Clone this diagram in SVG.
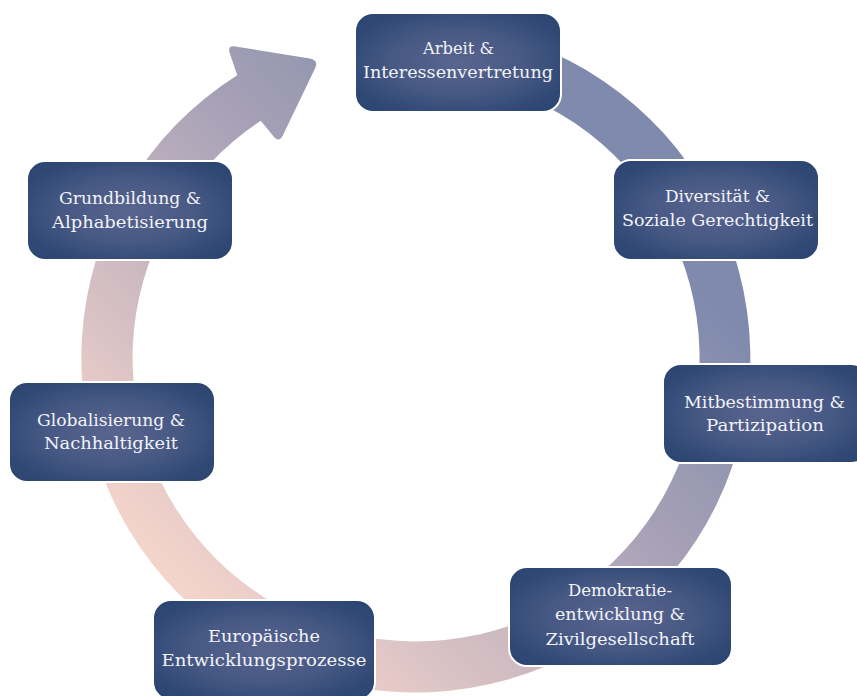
<svg xmlns="http://www.w3.org/2000/svg" width="857" height="696" viewBox="0 0 857 696">
  <defs>
    <!-- colour sweep of the circular arrow: blue at top right, peach at bottom left -->
    <linearGradient id="ringGrad" gradientUnits="userSpaceOnUse" x1="751" y1="22" x2="82" y2="692">
      <stop offset="0" stop-color="#7e8aad"/>
      <stop offset="0.24" stop-color="#7f8aad"/>
      <stop offset="0.38" stop-color="#9a9ab2"/>
      <stop offset="0.45" stop-color="#a6a0b6"/>
      <stop offset="0.56" stop-color="#bcafbd"/>
      <stop offset="0.69" stop-color="#d5bfc3"/>
      <stop offset="0.74" stop-color="#e0c6c6"/>
      <stop offset="0.84" stop-color="#f3d4cb"/>
      <stop offset="1" stop-color="#f8d9ce"/>
    </linearGradient>
    <!-- node fill: lighter glow in the middle, deep navy at the rim -->
    <radialGradient id="boxGrad" cx="0.5" cy="0.5" r="0.66">
      <stop offset="0" stop-color="#59658f"/>
      <stop offset="0.5" stop-color="#465884"/>
      <stop offset="0.85" stop-color="#304874"/>
      <stop offset="1" stop-color="#2b4572"/>
    </radialGradient>
  </defs>
  <style>
    .box { fill: url(#boxGrad); stroke: #ffffff; stroke-width: 2; }
    .lbl { font-family: "DejaVu Serif", "Liberation Serif", serif; font-size: 17.5px; fill: #f3f3f8; text-anchor: middle; }
  </style>

  <rect width="857" height="696" fill="#ffffff"/>

  <!-- circular arrow running clockwise from the top, head at upper left -->
  <g id="connectors">
    <path id="cycle-arrow" fill="url(#ringGrad)"
      d="M416,23.5 A334.5,334.5 0 1 1 237.2,75.2
         L229.8,53.2 Q227,45 235.5,46.4
         L309.6,58.5 Q319,60 315,68.6
         L282.8,135.4 Q279,143 273.6,136.4
         L260.8,120.8
         A283.5,283.5 0 1 0 416,74.5 Z"/>
  </g>

  <g id="node-arbeit">
    <rect class="box" x="355" y="13" width="206" height="99" rx="18"/>
    <text class="lbl" x="458.5" y="54" textLength="71" lengthAdjust="spacingAndGlyphs">Arbeit &amp;</text>
    <text class="lbl" x="458" y="78" textLength="190" lengthAdjust="spacingAndGlyphs">Interessenvertretung</text>
  </g>

  <g id="node-diversitaet">
    <rect class="box" x="613" y="160" width="206" height="100" rx="18"/>
    <text class="lbl" x="717.5" y="202" textLength="105" lengthAdjust="spacingAndGlyphs">Diversität &amp;</text>
    <text class="lbl" x="717.5" y="226" textLength="191" lengthAdjust="spacingAndGlyphs">Soziale Gerechtigkeit</text>
  </g>

  <g id="node-mitbestimmung">
    <rect class="box" x="663" y="364" width="206" height="99" rx="18"/>
    <text class="lbl" x="764.5" y="408" textLength="161" lengthAdjust="spacingAndGlyphs">Mitbestimmung &amp;</text>
    <text class="lbl" x="765" y="431" textLength="118" lengthAdjust="spacingAndGlyphs">Partizipation</text>
  </g>

  <g id="node-demokratie">
    <rect class="box" x="509" y="567" width="223" height="99" rx="18"/>
    <text class="lbl" x="620" y="596" textLength="104" lengthAdjust="spacingAndGlyphs">Demokratie-</text>
    <text class="lbl" x="620" y="620" textLength="130" lengthAdjust="spacingAndGlyphs">entwicklung &amp;</text>
    <text class="lbl" x="620" y="645" textLength="149" lengthAdjust="spacingAndGlyphs">Zivilgesellschaft</text>
  </g>

  <g id="node-europa">
    <rect class="box" x="153" y="600" width="222" height="100" rx="18"/>
    <text class="lbl" x="264" y="642" textLength="112" lengthAdjust="spacingAndGlyphs">Europäische</text>
    <text class="lbl" x="264" y="666" textLength="205" lengthAdjust="spacingAndGlyphs">Entwicklungsprozesse</text>
  </g>

  <g id="node-globalisierung">
    <rect class="box" x="9" y="382" width="206" height="100" rx="18"/>
    <text class="lbl" x="111" y="426" textLength="148" lengthAdjust="spacingAndGlyphs">Globalisierung &amp;</text>
    <text class="lbl" x="111" y="449" textLength="134" lengthAdjust="spacingAndGlyphs">Nachhaltigkeit</text>
  </g>

  <g id="node-grundbildung">
    <rect class="box" x="27" y="161" width="206" height="99" rx="18"/>
    <text class="lbl" x="130" y="204" textLength="142" lengthAdjust="spacingAndGlyphs">Grundbildung &amp;</text>
    <text class="lbl" x="130" y="228" textLength="156" lengthAdjust="spacingAndGlyphs">Alphabetisierung</text>
  </g>
</svg>
